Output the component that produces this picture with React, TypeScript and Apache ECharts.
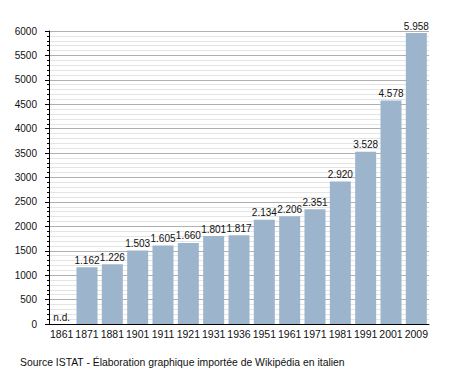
import React, { useEffect, useRef } from "react";
import * as echarts from "echarts";

const years = ["1861", "1871", "1881", "1901", "1911", "1921", "1931", "1936", "1951", "1961", "1971", "1981", "1991", "2001", "2009"];
const population = [0, 1162, 1226, 1503, 1605, 1660, 1801, 1817, 2134, 2206, 2351, 2920, 3528, 4578, 5958];
const sourceText = "Source ISTAT - Élaboration graphique importée de Wikipédia en italien";

const FONT = "Liberation Sans";
const NARROW = "Liberation Sans Narrow";

function fmt(v: number): string {
  if (v === 0) return "n.d.";
  return Math.floor(v / 1000) + "." + String(v % 1000).padStart(3, "0");
}

export default function App() {
  const ref = useRef<HTMLDivElement>(null);
  useEffect(() => {
    if (!ref.current) return;
    const chart = echarts.init(ref.current, null, { renderer: "svg" });
    chart.setOption({
      animation: false,
      backgroundColor: "#ffffff",
      textStyle: { fontFamily: FONT },
      grid: { left: 49, right: 26, top: 31, bottom: 49 },
      xAxis: {
        type: "category",
        data: years,
        axisTick: { show: false },
        axisLine: { show: true, lineStyle: { color: "#000", width: 1 } },
        axisLabel: { color: "#111", fontSize: 10.5, fontFamily: `"${NARROW}", "${FONT}"`, margin: 4, interval: 0 },
        splitLine: { show: false },
      },
      yAxis: {
        type: "value",
        min: 0,
        max: 6000,
        interval: 500,
        axisLine: { show: true, lineStyle: { color: "#000", width: 1 } },
        axisTick: { show: true, length: 4, lineStyle: { color: "#000" } },
        minorTick: { show: true, splitNumber: 5, length: 2, lineStyle: { color: "#000" } },
        axisLabel: { color: "#111", fontSize: 10, fontFamily: FONT, margin: 12, formatter: (v: number) => String(v) },
        splitLine: { show: true, lineStyle: { color: "#b0b0b0", width: 1 } },
        minorSplitLine: { show: true, lineStyle: { color: "#e4e4e4", width: 1 } },
      },
      series: [
        {
          type: "bar",
          data: population,
          barWidth: 21,
          itemStyle: { color: "#9db4cd" },
          label: {
            show: true,
            position: "top",
            distance: 2,
            color: "#111",
            fontSize: 10,
            fontFamily: FONT,
            formatter: (p: any) => fmt(p.value as number),
          },
        },
      ],
      graphic: [
        {
          type: "text",
          left: 20,
          top: 357,
          style: { text: sourceText, fill: "#111", font: `10.4px "${FONT}"` },
        },
      ],
    });
    return () => chart.dispose();
  }, []);
  return <div ref={ref} style={{ position: "fixed", left: 0, top: 0, width: 455, height: 373 }} />;
}
